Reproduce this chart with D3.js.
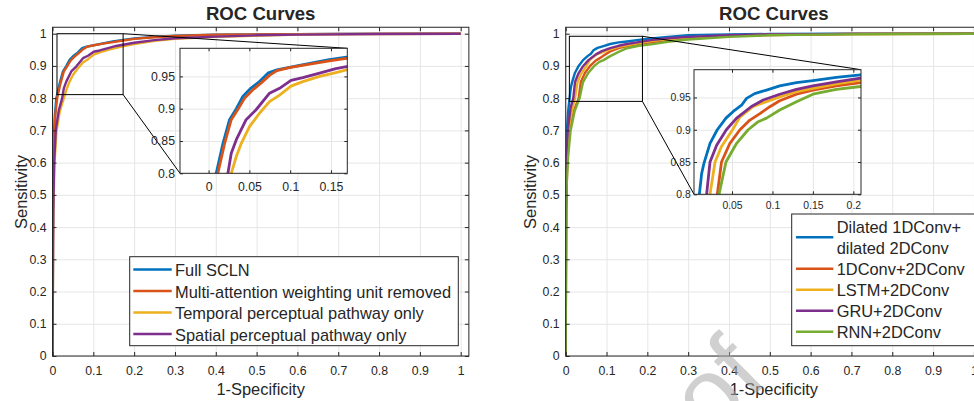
<!DOCTYPE html>
<html>
<head>
<meta charset="utf-8">
<script src="https://cdn.jsdelivr.net/npm/d3@7"></script>
<style>
	body { margin: 0; background: #fff; }
	svg text { font-family: "Liberation Sans", Arial, Helvetica, sans-serif; fill: #262626; }
</style>
</head>
<body>
<script>
(function () {
	"use strict";

	// ---- data ----
	let mainTicks = [0, 0.1, 0.2, 0.3, 0.4, 0.5, 0.6, 0.7, 0.8, 0.9, 1];
	let mainTickLabels = ['0', '0.1', '0.2', '0.3', '0.4', '0.5', '0.6', '0.7', '0.8', '0.9', '1'];
	let leftInsetXTicks = [0, 0.05, 0.1, 0.15];
	let leftInsetXLabels = ['0', '0.05', '0.1', '0.15'];
	let rightInsetXTicks = [0.05, 0.1, 0.15, 0.2];
	let rightInsetXLabels = ['0.05', '0.1', '0.15', '0.2'];
	let insetYTicks = [0.8, 0.85, 0.9, 0.95];
	let insetYLabels = ['0.8', '0.85', '0.9', '0.95'];

	let leftNames = ['Full SCLN', 'Multi-attention weighting unit removed',
		'Temporal perceptual pathway only', 'Spatial perceptual pathway only'];
	let rightNames = [['Dilated 1DConv+', 'dilated 2DConv'], ['1DConv+2DConv'], ['LSTM+2DConv'],
		['GRU+2DConv'], ['RNN+2DConv']];

	let colors = ['#0072BD', '#D95319', '#EDB120', '#7E2F8E', '#77AC30'];

	// [1-specificity, sensitivity]
	let fullScln = [[0, 0], [0.001, 0.45], [0.002, 0.6], [0.004, 0.7], [0.006, 0.75], [0.0094, 0.8],
		[0.0176, 0.846], [0.0257, 0.883], [0.034, 0.9], [0.042, 0.919], [0.052, 0.932], [0.0624, 0.942],
		[0.0727, 0.955], [0.0837, 0.96], [0.099, 0.964], [0.124, 0.97], [0.148, 0.976], [0.169, 0.98],
		[0.2, 0.985], [0.25, 0.99], [0.3, 0.994], [0.4, 0.997], [0.5, 0.998], [0.7, 0.9995], [1, 1]];
	let multiAttnRemoved = [[0, 0], [0.001, 0.45], [0.002, 0.58], [0.004, 0.68], [0.007, 0.75], [0.0114, 0.8],
		[0.0196, 0.846], [0.0278, 0.883], [0.036, 0.899], [0.044, 0.916], [0.054, 0.929], [0.0645, 0.94],
		[0.075, 0.952], [0.0837, 0.959], [0.099, 0.9635], [0.124, 0.969], [0.148, 0.974], [0.169, 0.978],
		[0.2, 0.984], [0.25, 0.989], [0.3, 0.993], [0.4, 0.997], [0.5, 0.998], [0.7, 0.9995], [1, 1]];
	let temporalOnly = [[0, 0], [0.002, 0.45], [0.005, 0.6], [0.01, 0.7], [0.018, 0.76], [0.0278, 0.8],
		[0.034, 0.826], [0.04, 0.846], [0.05, 0.872], [0.0624, 0.893], [0.0747, 0.911], [0.087, 0.921],
		[0.101, 0.935], [0.1155, 0.942], [0.136, 0.95], [0.156, 0.956], [0.169, 0.96], [0.2, 0.968],
		[0.25, 0.978], [0.3, 0.984], [0.4, 0.99], [0.47, 0.993], [0.6, 0.997], [0.8, 0.999], [1, 1]];
	let spatialOnly = [[0, 0], [0.002, 0.45], [0.004, 0.6], [0.008, 0.7], [0.015, 0.76], [0.0237, 0.8],
		[0.0278, 0.831], [0.034, 0.852], [0.046, 0.883], [0.058, 0.898], [0.0747, 0.924], [0.087, 0.9315],
		[0.101, 0.944], [0.1155, 0.948], [0.136, 0.955], [0.156, 0.962], [0.169, 0.965], [0.2, 0.972],
		[0.25, 0.98], [0.3, 0.986], [0.4, 0.991], [0.5, 0.995], [0.6, 0.997], [0.8, 0.999], [1, 1]];

	let dilatedConv = [[0, 0], [0.0005, 0.4], [0.001, 0.6], [0.003, 0.7], [0.006, 0.76], [0.0096, 0.8],
		[0.0125, 0.8325], [0.0153, 0.848], [0.0228, 0.879], [0.0318, 0.9], [0.0425, 0.918], [0.0536, 0.9305],
		[0.0618, 0.938], [0.068, 0.9486], [0.078, 0.956], [0.0927, 0.9615], [0.109, 0.968], [0.1297, 0.973],
		[0.15, 0.976], [0.179, 0.981], [0.209, 0.985], [0.25, 0.99], [0.3, 0.995], [0.4, 0.998],
		[0.5, 0.999], [0.7, 0.9997], [1, 1]];
	let conv1d = [[0, 0], [0.001, 0.45], [0.004, 0.6], [0.009, 0.7], [0.02, 0.76], [0.0318, 0.8],
		[0.037, 0.85], [0.0474, 0.879], [0.0598, 0.9], [0.0721, 0.915], [0.0845, 0.925], [0.0968, 0.9357],
		[0.109, 0.945], [0.1297, 0.955], [0.15, 0.9615], [0.179, 0.968], [0.209, 0.973], [0.25, 0.98],
		[0.3, 0.986], [0.4, 0.993], [0.5, 0.996], [0.7, 0.999], [1, 1]];
	let lstm = [[0, 0], [0.001, 0.45], [0.003, 0.6], [0.007, 0.7], [0.015, 0.76], [0.0228, 0.8],
		[0.029, 0.85], [0.037, 0.874], [0.0507, 0.9], [0.06, 0.92], [0.0763, 0.936], [0.0927, 0.9435],
		[0.109, 0.951], [0.1297, 0.959], [0.15, 0.964], [0.179, 0.971], [0.209, 0.977], [0.25, 0.983],
		[0.3, 0.988], [0.4, 0.994], [0.5, 0.997], [0.7, 0.999], [1, 1]];
	let gru = [[0, 0], [0.001, 0.45], [0.002, 0.6], [0.005, 0.7], [0.012, 0.77], [0.0186, 0.8],
		[0.0228, 0.85], [0.031, 0.876], [0.043, 0.9], [0.0557, 0.918], [0.074, 0.936], [0.0886, 0.946],
		[0.109, 0.955], [0.1297, 0.9625], [0.15, 0.968], [0.179, 0.974], [0.209, 0.98], [0.25, 0.986],
		[0.3, 0.99], [0.4, 0.995], [0.5, 0.998], [0.7, 0.9995], [1, 1]];
	let rnn = [[0, 0], [0.001, 0.5], [0.003, 0.55], [0.006, 0.62], [0.012, 0.7], [0.022, 0.76], [0.034, 0.8],
		[0.0425, 0.85], [0.0557, 0.879], [0.07, 0.9], [0.0824, 0.9125], [0.0927, 0.918], [0.109, 0.9305],
		[0.1297, 0.9434], [0.15, 0.955], [0.179, 0.9625], [0.209, 0.967], [0.25, 0.975], [0.3, 0.982],
		[0.4, 0.99], [0.5, 0.995], [0.6, 0.997], [0.8, 0.999], [1, 1]];

	// ---- drawing ----
	let w = 974;
	let h = 401;
	let axisColor = '#262626';
	let gridColor = '#e6e6e6';

	let svg = d3.select('body').append('svg').attr('width', w).attr('height', h);
	let clipId = 0;

	function clipTo(g, x, y) {
		let id = 'clip' + (clipId++);
		svg.append('clipPath').attr('id', id).append('rect')
			.attr('x', x.range()[0]).attr('y', y.range()[1])
			.attr('width', x.range()[1] - x.range()[0])
			.attr('height', y.range()[0] - y.range()[1]);
		return g.append('g').attr('clip-path', 'url(#' + id + ')');
	}

	// grid + series + frame with inward ticks on all four sides
	function drawAxes(g, x, y, o) {
		let x0 = x.range()[0], x1 = x.range()[1];
		let y0 = y.range()[0], y1 = y.range()[1];

		g.append('rect').attr('x', x0).attr('y', y1).attr('width', x1 - x0).attr('height', y0 - y1)
			.attr('fill', '#fff');

		g.append('g').attr('transform', 'translate(0,' + y0 + ')')
			.call(d3.axisBottom(x).tickValues(o.xTicks).tickSize(-(y0 - y1)).tickFormat(''))
			.call(a => a.select('.domain').remove())
			.selectAll('line').attr('stroke', gridColor);
		g.append('g').attr('transform', 'translate(' + x0 + ',0)')
			.call(d3.axisLeft(y).tickValues(o.yTicks).tickSize(-(x1 - x0)).tickFormat(''))
			.call(a => a.select('.domain').remove())
			.selectAll('line').attr('stroke', gridColor);

		let line = d3.line().x(d => x(d[0])).y(d => y(d[1]));
		clipTo(g, x, y).selectAll('path')
			.data(o.series)
			.enter()
			.append('path')
			.attr('d', line)
			.attr('fill', 'none')
			.attr('stroke', (d, i) => o.colors[i])
			.attr('stroke-width', o.lineWidth)
			.attr('stroke-linejoin', 'round');

		let tl = o.tickLen;
		let bottom = g.append('g').attr('transform', 'translate(0,' + y0 + ')')
			.call(d3.axisBottom(x).tickValues(o.xTicks).tickSize(-tl).tickPadding(o.xPad)
				.tickFormat((d, i) => o.xLabels[i]));
		let left = g.append('g').attr('transform', 'translate(' + x0 + ',0)')
			.call(d3.axisLeft(y).tickValues(o.yTicks).tickSize(-tl).tickPadding(o.yPad)
				.tickFormat((d, i) => o.yLabels[i]));
		let top = g.append('g').attr('transform', 'translate(0,' + y1 + ')')
			.call(d3.axisTop(x).tickValues(o.xTicks).tickSize(-tl).tickFormat(''));
		let right = g.append('g').attr('transform', 'translate(' + x1 + ',0)')
			.call(d3.axisRight(y).tickValues(o.yTicks).tickSize(-tl).tickFormat(''));

		[bottom, left, top, right].forEach(a => {
			a.select('.domain').remove();
			a.selectAll('line').attr('stroke', axisColor);
			a.selectAll('text').attr('font-size', o.fontSize).attr('fill', axisColor)
				.attr('font-family', '"Liberation Sans", Arial, sans-serif');
		});

		g.append('rect').attr('x', x0).attr('y', y1).attr('width', x1 - x0).attr('height', y0 - y1)
			.attr('fill', 'none').attr('stroke', axisColor).attr('stroke-width', 1);
	}

	function drawPanel(p) {
		let g = svg.append('g');
		let x = d3.scaleLinear().domain([0, 1.02]).range([p.left, p.left + 1.02 * 408.2]);
		let y = d3.scaleLinear().domain([0, 1.02]).range([356, 356 - 1.02 * 322.3]);

		drawAxes(g, x, y, {
			xTicks: mainTicks, yTicks: mainTicks, xLabels: mainTickLabels, yLabels: mainTickLabels,
			series: p.series, colors: colors, tickLen: 4, xPad: 10.5, yPad: 6, fontSize: '12.3px',
			lineWidth: 2.4
		});

		// zoom window and connectors
		let r = p.zoomBox;
		g.append('rect')
			.attr('x', x(r[0])).attr('y', y(r[3]))
			.attr('width', x(r[1]) - x(r[0])).attr('height', y(r[2]) - y(r[3]))
			.attr('fill', 'none').attr('stroke', '#000').attr('stroke-width', 1);

		let ip = p.inset;
		let ix = d3.scaleLinear().domain(ip.xDomain).range([ip.box[0], ip.box[2]]);
		let iy = d3.scaleLinear().domain(ip.yDomain).range([ip.box[3], ip.box[1]]);

		g.append('line')
			.attr('x1', x(r[1])).attr('y1', y(r[3])).attr('x2', ip.box[2]).attr('y2', ip.box[1])
			.attr('stroke', '#000').attr('stroke-width', 1);
		g.append('line')
			.attr('x1', x(r[1])).attr('y1', y(r[2])).attr('x2', ip.box[0]).attr('y2', ip.box[3])
			.attr('stroke', '#000').attr('stroke-width', 1);

		drawAxes(g.append('g'), ix, iy, {
			xTicks: ip.xTicks, yTicks: insetYTicks, xLabels: ip.xLabels, yLabels: insetYLabels,
			series: p.series, colors: colors, tickLen: 3, xPad: ip.xPad, yPad: ip.yPad, fontSize: ip.fontSize,
			lineWidth: 2.8
		});

		// legend
		let lg = p.legend;
		let leg = g.append('g');
		leg.append('rect')
			.attr('x', lg.box[0]).attr('y', lg.box[1])
			.attr('width', lg.box[2] - lg.box[0]).attr('height', lg.box[3] - lg.box[1])
			.attr('fill', '#fff').attr('stroke', axisColor).attr('stroke-width', 1);
		let row = 0;
		p.names.forEach((name, i) => {
			let lines = Array.isArray(name) ? name : [name];
			let base = lg.firstBaseline + row * lg.step;
			let mid = base + (lines.length - 1) * lg.step / 2 - 6.5;
			leg.append('line')
				.attr('x1', lg.sample[0]).attr('x2', lg.sample[1]).attr('y1', mid).attr('y2', mid)
				.attr('stroke', colors[i]).attr('stroke-width', 2.4);
			lines.forEach((t, k) => {
				leg.append('text')
					.attr('x', lg.textX).attr('y', base + k * lg.step)
					.attr('font-size', '16.4px')
					.text(t);
			});
			row += lines.length;
		});

		let cx = (x.range()[0] + x.range()[1]) / 2;
		g.append('text')
			.attr('x', cx).attr('y', 20)
			.attr('text-anchor', 'middle')
			.attr('font-size', '18.6px').attr('font-weight', 'bold')
			.attr('fill', '#000')
			.text('ROC Curves');
		g.append('text')
			.attr('x', cx).attr('y', 395)
			.attr('text-anchor', 'middle')
			.attr('font-size', '16.4px')
			.text('1-Specificity');
		g.append('text')
			.attr('transform', 'translate(' + p.yLabelX + ',192) rotate(-90)')
			.attr('text-anchor', 'middle')
			.attr('font-size', '16.4px')
			.text('Sensitivity');
	}

	drawPanel({
		left: 52.5,
		series: [fullScln, multiAttnRemoved, temporalOnly, spatialOnly],
		names: leftNames,
		zoomBox: [0.011, 0.173, 0.811, 1.0],
		inset: {
			box: [180, 48.3, 347.3, 173.3], xDomain: [-0.035, 0.17], yDomain: [0.8, 0.9935],
			xTicks: leftInsetXTicks, xLabels: leftInsetXLabels, xPad: 9.4, yPad: 5, fontSize: '12.3px'
		},
		legend: {
			box: [129.7, 256.7, 458.3, 345.7], sample: [133.3, 171.7], textX: 175,
			firstBaseline: 276, step: 21.5
		},
		yLabelX: 27
	});

	drawPanel({
		left: 565.7,
		series: [dilatedConv, conv1d, lstm, gru, rnn],
		names: rightNames,
		zoomBox: [0.009, 0.188, 0.79, 0.992],
		inset: {
			box: [694, 69.7, 861, 194.3], xDomain: [0.003, 0.2095], yDomain: [0.8, 0.993],
			xTicks: rightInsetXTicks, xLabels: rightInsetXLabels, xPad: 7.4, yPad: 3.3, fontSize: '10.4px'
		},
		legend: {
			box: [791.7, 214, 980, 345.7], sample: [796, 833.3], textX: 836.7,
			firstBaseline: 233.3, step: 21
		},
		yLabelX: 535.5
	});

	// faint page watermark, mostly outside the frame
	svg.append('text')
		.attr('transform', 'translate(770,380) rotate(-45)')
		.attr('text-anchor', 'end')
		.attr('font-size', '100px')
		.style('fill', '#aaaaaa')
		.attr('opacity', 0.55)
		.text('Proof');

})();
</script>
</body>
</html>
